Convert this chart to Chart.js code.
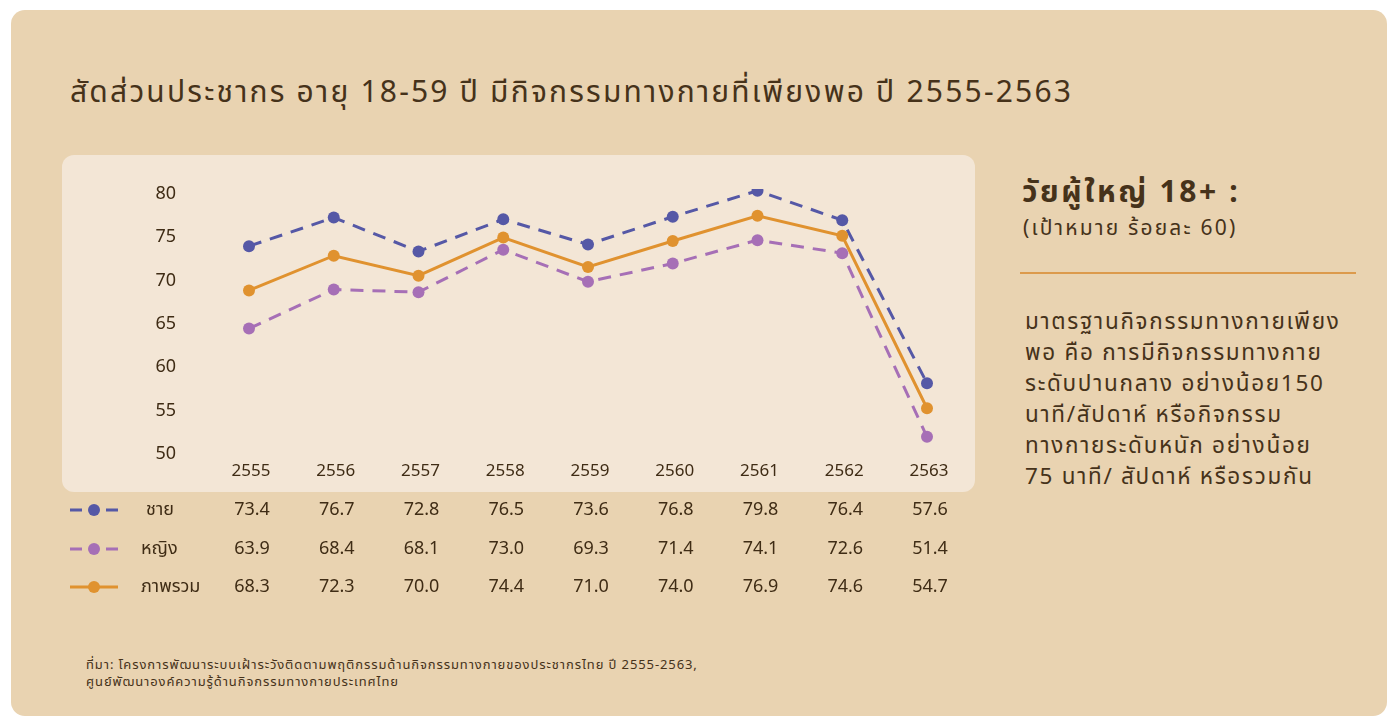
<!DOCTYPE html>
<html>
<head>
<meta charset="utf-8">
<script src="https://cdn.jsdelivr.net/npm/chart.js@4"></script>
<style>
  body { margin: 0; width: 1400px; height: 728px; background: #fff; position: relative; overflow: hidden;
         font-family: "Noto Sans", "Noto Sans Thai", sans-serif; color: #46321a; }
  .card { position: absolute; left: 11px; top: 10px; width: 1376px; height: 706px; background: #e9d3b1; border-radius: 14px; }
  .panel { position: absolute; left: 62px; top: 155px; width: 913px; height: 337px; background: #f3e6d6; border-radius: 12px; }
  .title { position: absolute; left: 70px; top: 70px; font-size: 30px; letter-spacing: 2.2px; white-space: nowrap; }
  .side-h { position: absolute; left: 1022px; top: 170px; font-size: 30px; font-weight: bold; letter-spacing: 2.6px; white-space: nowrap; }
  .side-s { position: absolute; left: 1023px; top: 213px; font-size: 21px; letter-spacing: 2.2px; white-space: nowrap; }
  .rule { position: absolute; left: 1020px; top: 272px; width: 336px; height: 2px; background: #dc9a4c; }
  .para { position: absolute; left: 1025px; top: 305px; font-size: 22.5px; line-height: 31px; letter-spacing: 1.7px; white-space: nowrap; }
  .src { position: absolute; left: 86px; top: 656px; font-size: 13px; line-height: 17px; letter-spacing: 0.9px; white-space: nowrap; }
  canvas { position: absolute; left: 0; top: 0; }
</style>
</head>
<body>
<div class="card"></div>
<div class="panel"></div>
<div class="title">สัดส่วนประชากร อายุ 18-59 ปี มีกิจกรรมทางกายที่เพียงพอ ปี 2555-2563</div>
<div class="side-h">วัยผู้ใหญ่ 18+ :</div>
<div class="side-s">(เป้าหมาย ร้อยละ 60)</div>
<div class="rule"></div>
<div class="para">มาตรฐานกิจกรรมทางกายเพียง<br>พอ คือ การมีกิจกรรมทางกาย<br>ระดับปานกลาง อย่างน้อย150<br>นาที/สัปดาห์ หรือกิจกรรม<br>ทางกายระดับหนัก อย่างน้อย<br>75 นาที/ สัปดาห์ หรือรวมกัน</div>
<div class="src">ที่มา: โครงการพัฒนาระบบเฝ้าระวังติดตามพฤติกรรมด้านกิจกรรมทางกายของประชากรไทย ปี 2555-2563,<br>ศูนย์พัฒนาองค์ความรู้ด้านกิจกรรมทางกายประเทศไทย</div>
<canvas id="Chart"></canvas>
<script>
const years = ["2555", "2556", "2557", "2558", "2559", "2560", "2561", "2562", "2563"];
const male = [73.4, 76.7, 72.8, 76.5, 73.6, 76.8, 79.8, 76.4, 57.6];
const female = [63.9, 68.4, 68.1, 73.0, 69.3, 71.4, 74.1, 72.6, 51.4];
const overall = [68.3, 72.3, 70.0, 74.4, 71.0, 74.0, 76.9, 74.6, 54.7];
const seriesNames = ["ชาย", "หญิง", "ภาพรวม"];

const textColor = "#3f2c15";
const font = '"Noto Sans", "Noto Sans Thai", sans-serif';

const ctx = document.getElementById("Chart");
ctx.width = 1400;
ctx.height = 728;

// legend + value table under the chart, values placed on the x scale
const tablePlugin = {
  id: "table",
  afterDraw(chart) {
    const c = chart.ctx;
    const x = chart.scales.x;
    const rowsY = [510, 549, 587];
    c.save();
    c.font = "18px " + font;
    c.textBaseline = "middle";
    chart.data.datasets.forEach((ds, r) => {
      const y = rowsY[r];
      c.strokeStyle = ds.borderColor;
      c.lineWidth = 3;
      if (ds.borderDash.length) {
        c.beginPath(); c.moveTo(70, y); c.lineTo(82, y); c.moveTo(106, y); c.lineTo(118, y); c.stroke();
      } else {
        c.beginPath(); c.moveTo(70, y); c.lineTo(118, y); c.stroke();
      }
      c.fillStyle = ds.borderColor;
      c.beginPath(); c.arc(94, y, 6, 0, Math.PI * 2); c.fill();
      c.fillStyle = textColor;
      c.textAlign = "left";
      c.fillText(ds.label, r === 0 ? 146 : 141, y);
      c.textAlign = "center";
      ds.data.forEach((v, i) => {
        c.fillText(v.toFixed(1), x.getPixelForValue(i) + 3, y);
      });
    });
    c.restore();
  }
};

new Chart(ctx, {
  type: "line",
  data: {
    labels: years,
    datasets: [
      {
        label: seriesNames[0],
        data: male,
        borderColor: "#5558a6",
        backgroundColor: "#5558a6",
        borderDash: [13, 9],
        borderWidth: 3,
        order: 2,
      },
      {
        label: seriesNames[1],
        data: female,
        borderColor: "#a66fb6",
        backgroundColor: "#a66fb6",
        borderDash: [13, 9],
        borderWidth: 3,
        order: 3,
      },
      {
        label: seriesNames[2],
        data: overall,
        borderColor: "#e0922f",
        backgroundColor: "#e0922f",
        borderDash: [],
        borderWidth: 3,
        order: 1,
      },
    ],
  },
  options: {
    responsive: false,
    animation: false,
    layout: {
      padding: { left: 62, right: 1400 - 927, top: 189, bottom: 728 - 449 - 30 },
    },
    plugins: {
      legend: { display: false },
      tooltip: { enabled: false },
    },
    datasets: {
      line: {
        pointRadius: 6,
        pointBorderWidth: 0,
        tension: 0,
      },
    },
    scales: {
      x: {
        grid: { display: false, drawTicks: false },
        border: { display: false },
        ticks: { color: textColor, font: { size: 17, family: font }, padding: 12, labelOffset: 2 },
        afterFit: (s) => { s.height = 30; },
      },
      y: {
        min: 50,
        max: 80,
        grid: { display: false, drawTicks: false },
        border: { display: false },
        ticks: { stepSize: 5, color: textColor, font: { size: 18, family: font }, padding: 73, labelOffset: 5 },
        afterFit: (s) => { s.width = 249 - 62; },
      },
    },
  },
  plugins: [tablePlugin],
});
</script>
</body>
</html>
